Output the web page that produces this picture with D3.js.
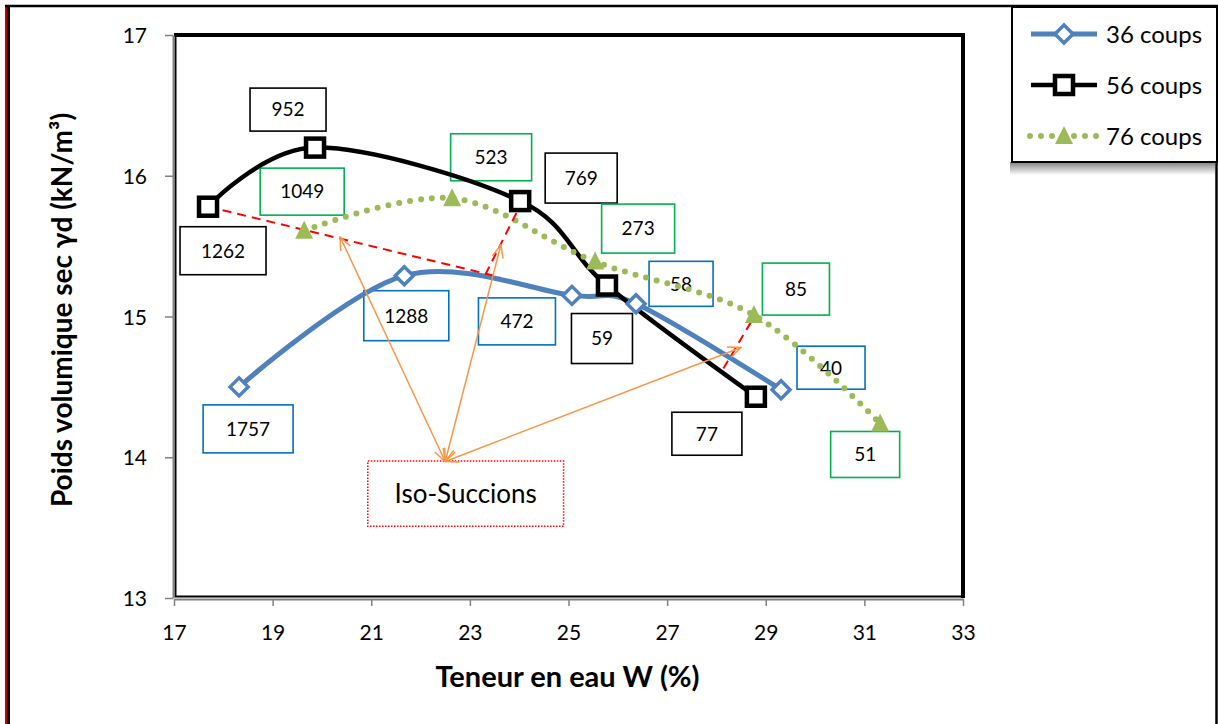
<!DOCTYPE html>
<html>
<head>
<meta charset="utf-8">
<script src="https://cdn.jsdelivr.net/npm/d3@7"></script>
<style>
  html, body { margin: 0; padding: 0; background: #fff; }
  svg { display: block; font-family: Lato, "Open Sans", sans-serif; }
</style>
</head>
<body>
<svg id="chart" width="1218" height="724"></svg>
<script>
// ---------- data ----------
const xTicks = [17, 19, 21, 23, 25, 27, 29, 31, 33];
const yTicks = [13, 14, 15, 16, 17];
const seriesNames = ["36 coups", "56 coups", "76 coups"];

const w36 = [18.32, 21.67, 25.07, 26.37, 29.31];
const g36 = [14.50, 15.29, 15.15, 15.09, 14.48];
const s36 = [1757, 1288, 472, 58, 40];

const w56 = [17.69, 19.86, 24.02, 25.78, 28.80];
const g56 = [15.78, 16.20, 15.82, 15.22, 14.43];
const s56 = [1262, 952, 769, 59, 77];

const w76 = [19.64, 22.64, 25.54, 28.76, 31.32];
const g76 = [15.61, 15.84, 15.39, 15.01, 14.24];
const s76 = [1049, 523, 273, 85, 51];

// iso-suction dashed lines (data coordinates)
const isoLines = [
  [[17.69, 15.78], [23.61, 15.28]],
  [[24.08, 15.83], [23.31, 15.295]],
  [[28.70, 14.96], [28.09, 14.60]]
];
// arrows from the Iso-Succions note
const arrowOrigin = [22.50, 13.97];
const arrowTargets = [[20.37, 15.565], [23.63, 15.51], [28.50, 14.78]];
const noteBox = { x0: 20.93, x1: 24.90, y0: 13.973, y1: 13.51, text: "Iso-Succions" };

// ---------- layout (pixels) ----------
const W = 1218, H = 724;
const plot = { left: 174, right: 963, top: 35, bottom: 598 };

// label box offsets from their point [dx, dy, width, height]
const lab36 = [[9, 42, 90, 48], [2, 40, 85, 50], [-55, 26, 77, 47], [45, -20, 64, 45], [50, -22, 68, 43]];
const lab56 = [[15, 44, 86, 48], [-27, -38, 76, 43], [61, -23, 72, 50], [-5, 53, 61, 50], [-49, 37, 70, 43]];
const lab76 = [[-2, -39, 84, 47], [39, -41, 81, 47], [43, -33, 73, 49], [42, -26, 67, 52], [-15, 31, 69, 46]];

const blue = "#4F81BD", green = "#9BBB59", orange = "#F79646";
const boxBlue = "#0070C0", boxGreen = "#00B050";

const svg = d3.select("#chart");

const x = d3.scaleLinear().domain([17, 33]).range([plot.left, plot.right]);
const y = d3.scaleLinear().domain([13, 17]).range([plot.bottom, plot.top]);

// ---------- outer frame ----------
svg.append("rect").attr("x", 0).attr("y", 0).attr("width", W).attr("height", H).attr("fill", "#fff");
svg.append("line").attr("x1", 6).attr("x2", 6).attr("y1", 5).attr("y2", H).attr("stroke", "#C00000").attr("stroke-width", 2);
svg.append("line").attr("x1", 8.5).attr("x2", 8.5).attr("y1", 5).attr("y2", H).attr("stroke", "#000").attr("stroke-width", 3);
svg.append("line").attr("x1", 5).attr("x2", W).attr("y1", 6).attr("y2", 6).attr("stroke", "#000").attr("stroke-width", 2.5);
svg.append("line").attr("x1", 1216.5).attr("x2", 1216.5).attr("y1", 5).attr("y2", H).attr("stroke", "#000").attr("stroke-width", 2.5);

// ---------- plot frame ----------
svg.append("rect")
  .attr("x", plot.left).attr("y", plot.top)
  .attr("width", plot.right - plot.left).attr("height", plot.bottom - plot.top)
  .attr("fill", "#fff").attr("stroke", "none");
svg.append("path")
  .attr("d", `M${plot.left},${plot.top}H${plot.right}V${plot.bottom}`)
  .attr("fill", "none").attr("stroke", "#000").attr("stroke-width", 4);
svg.append("path")
  .attr("d", `M${plot.left + 1.5},${plot.top}V${plot.bottom - 1.5}H${plot.right}`)
  .attr("fill", "none").attr("stroke", "#000").attr("stroke-width", 2);

// ---------- axes ----------
const xAxis = d3.axisBottom(x).tickValues(xTicks).tickFormat(d3.format("d"))
  .tickSize(7).tickSizeOuter(0).tickPadding(19);
const yAxis = d3.axisLeft(y).tickValues(yTicks).tickFormat(d3.format("d"))
  .tickSize(8).tickSizeOuter(0).tickPadding(18);

const gx = svg.append("g").attr("transform", `translate(0,${plot.bottom + 1})`).call(xAxis);
const gy = svg.append("g").attr("transform", `translate(${plot.left - 1},0)`).call(yAxis);
[gx, gy].forEach(g => {
  g.attr("font-size", null).attr("font-family", null);
  g.select(".domain").attr("stroke", "#808080").attr("stroke-width", 2);
  g.selectAll(".tick line").attr("stroke", "#808080").attr("stroke-width", 1.5);
  g.selectAll(".tick text").attr("fill", "#000").style("font-size", "21px");
});
gy.selectAll(".tick text").attr("dy", "0.36em");

// axis titles
svg.append("text")
  .attr("x", (plot.left + plot.right) / 2 - 1).attr("y", 687)
  .attr("text-anchor", "middle").style("font-size", "29px").attr("font-weight", "bold")
  .text("Teneur en eau W (%)");
svg.append("text")
  .attr("transform", "translate(72,310) rotate(-90)")
  .attr("text-anchor", "middle").style("font-size", "28px").attr("font-weight", "bold")
  .text("Poids volumique sec γd (kN/m³)");

// ---------- markers for arrows ----------
const defs = svg.append("defs");
defs.append("marker")
  .attr("id", "arr").attr("viewBox", "0 0 14 12").attr("refX", 13).attr("refY", 6)
  .attr("markerWidth", 14).attr("markerHeight", 12).attr("markerUnits", "userSpaceOnUse")
  .attr("orient", "auto-start-reverse")
  .append("path").attr("d", "M0,0.5 L13,6 L0,11.5")
  .attr("fill", "none").attr("stroke", orange).attr("stroke-width", 1.5);

const grad = defs.append("linearGradient").attr("id", "shadow").attr("x1", 0).attr("x2", 0).attr("y1", 0).attr("y2", 1);
grad.append("stop").attr("offset", "0%").attr("stop-color", "#7f7f7f");
grad.append("stop").attr("offset", "100%").attr("stop-color", "#ffffff");

// ---------- curves ----------
const line = d3.line().x(d => x(d[0])).y(d => y(d[1])).curve(d3.curveCatmullRom.alpha(0));
const pts36 = w36.map((v, i) => [v, g36[i]]);
const pts56 = w56.map((v, i) => [v, g56[i]]);
const pts76 = w76.map((v, i) => [v, g76[i]]);

function labels(pts, vals, lay, color) {
  const g = svg.append("g");
  pts.forEach((p, i) => {
    const [dx, dy, bw, bh] = lay[i];
    const cx = x(p[0]) + dx, cy = y(p[1]) + dy;
    g.append("rect").attr("x", cx - bw / 2).attr("y", cy - bh / 2)
      .attr("width", bw).attr("height", bh)
      .attr("fill", "#fff").attr("stroke", color).attr("stroke-width", 1.6);
    g.append("text").attr("x", cx).attr("y", cy).attr("dy", "0.36em")
      .attr("text-anchor", "middle").style("font-size", "19px").attr("fill", "#000")
      .text(vals[i]);
  });
}
labels(pts56, s56, lab56, "#000");
labels(pts76, s76, lab76, boxGreen);
labels(pts36, s36, lab36, boxBlue);

svg.append("path").datum(pts36).attr("d", line).attr("fill", "none")
  .attr("stroke", blue).attr("stroke-width", 5);
svg.append("path").datum(pts56).attr("d", line).attr("fill", "none")
  .attr("stroke", "#000").attr("stroke-width", 4.5);
svg.append("path").datum(pts76).attr("d", line).attr("fill", "none")
  .attr("stroke", green).attr("stroke-width", 6).attr("stroke-dasharray", "0 11")
  .attr("stroke-linecap", "round");

isoLines.forEach(l => {
  svg.append("line")
    .attr("x1", x(l[0][0])).attr("y1", y(l[0][1]))
    .attr("x2", x(l[1][0])).attr("y2", y(l[1][1]))
    .attr("stroke", "#FF0000").attr("stroke-width", 2).attr("stroke-dasharray", "9 6");
});

function diamond(g, cx, cy) {
  g.append("path").attr("d", `M${cx},${cy - 9}L${cx + 9},${cy}L${cx},${cy + 9}L${cx - 9},${cy}Z`)
    .attr("fill", "#fff").attr("stroke", blue).attr("stroke-width", 3.5);
}
function square(g, cx, cy) {
  g.append("rect").attr("x", cx - 9).attr("y", cy - 9).attr("width", 18).attr("height", 18)
    .attr("fill", "#fff").attr("stroke", "#000").attr("stroke-width", 4.5);
}
function triangle(g, cx, cy) {
  g.append("path").attr("d", `M${cx},${cy - 10}L${cx + 9},${cy + 8}L${cx - 9},${cy + 8}Z`)
    .attr("fill", green);
}
const mk = svg.append("g");
pts36.forEach(p => diamond(mk, x(p[0]), y(p[1])));
pts56.forEach(p => square(mk, x(p[0]), y(p[1])));
pts76.forEach(p => triangle(mk, x(p[0]), y(p[1])));

// note box
svg.append("rect")
  .attr("x", x(noteBox.x0)).attr("y", y(noteBox.y0))
  .attr("width", x(noteBox.x1) - x(noteBox.x0)).attr("height", y(noteBox.y1) - y(noteBox.y0))
  .attr("fill", "#fff").attr("stroke", "#FF0000").attr("stroke-width", 1.5).attr("stroke-dasharray", "1.5 1.5");
svg.append("text")
  .attr("x", (x(noteBox.x0) + x(noteBox.x1)) / 2).attr("y", (y(noteBox.y0) + y(noteBox.y1)) / 2)
  .attr("dy", "0.36em").attr("text-anchor", "middle").style("font-size", "26px")
  .text(noteBox.text);

arrowTargets.forEach(t => {
  svg.append("line")
    .attr("x1", x(arrowOrigin[0])).attr("y1", y(arrowOrigin[1]))
    .attr("x2", x(t[0])).attr("y2", y(t[1]))
    .attr("stroke", orange).attr("stroke-width", 1.5)
    .attr("marker-start", "url(#arr)").attr("marker-end", "url(#arr)");
});

// ---------- legend ----------
const lg = { x0: 1012, x1: 1217, y0: 7, y1: 162 };
svg.append("rect").attr("x", lg.x0 - 2).attr("y", lg.y1).attr("width", lg.x1 - lg.x0).attr("height", 13)
  .attr("fill", "url(#shadow)");
svg.append("rect").attr("x", lg.x0).attr("y", lg.y0).attr("width", lg.x1 - lg.x0).attr("height", lg.y1 - lg.y0)
  .attr("fill", "#fff").attr("stroke", "#000").attr("stroke-width", 2);

const legendRows = [34, 85, 136];
const legendStyles = [
  { stroke: blue, width: 5, dash: null, sym: diamond },
  { stroke: "#000", width: 4.5, dash: null, sym: square },
  { stroke: green, width: 6, dash: "0 11", sym: triangle }
];
seriesNames.forEach((name, i) => {
  const ly = legendRows[i], st = legendStyles[i];
  const l = svg.append("line").attr("x1", 1031).attr("x2", 1097).attr("y1", ly).attr("y2", ly)
    .attr("stroke", st.stroke).attr("stroke-width", st.width);
  if (st.dash) l.attr("stroke-dasharray", st.dash).attr("stroke-linecap", "round").attr("x1", 1030);
  st.sym(svg, 1064, ly);
  svg.append("text").attr("x", 1106).attr("y", ly).attr("dy", "0.36em")
    .style("font-size", "24px").attr("fill", "#000").text(name);
});
</script>
</body>
</html>
